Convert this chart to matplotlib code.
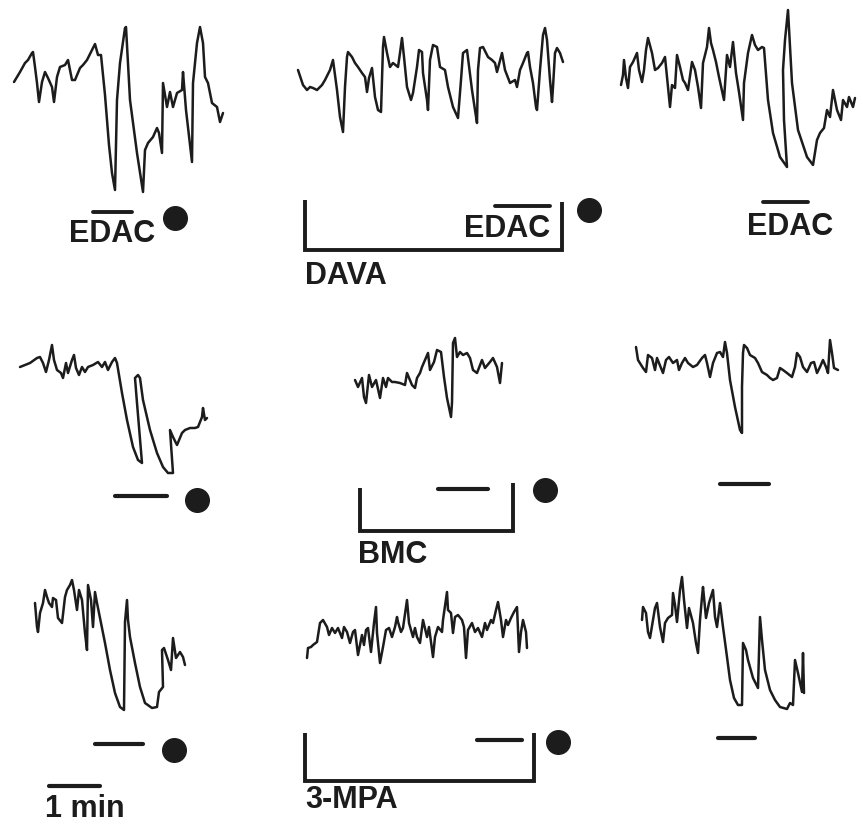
import numpy as np
import matplotlib
matplotlib.use("Agg")
import matplotlib.pyplot as plt

# ---------------- data: recorded traces (time units, deflection units; down = positive) ----------
edac_ctrl_t = [14,20,25,28,32,33,35,37,39,42,45,48,52,54,57,60,65,68,72,75,80,83,87,92,95,98,101,105,109,112,115,117,120,125,126,130,137,143,145,148,153,157,159,162,163,167,170,173,177,182,183,186,192,193,197,200,203,205,208,212,217,220,223]
edac_ctrl_v = [82,72,63,60,53,52,67,83,102,82,72,78,87,102,77,67,65,60,80,80,68,65,60,50,44,55,55,95,145,173,190,100,63,28,27,100,153,192,150,143,137,128,133,153,83,107,92,107,93,90,72,110,162,83,43,27,43,77,83,103,107,122,113]

edac_dava_t = [18,23,27,30,33,37,42,45,50,53,57,60,63,65,67,68,72,75,78,82,85,87,89,92,95,98,101,103,104,107,110,113,118,120,122,124,127,131,133,135,137,139,142,143,147,148,150,153,157,160,165,168,173,178,181,183,187,192,195,197,198,200,203,208,212,215,217,222,225,230,235,237,240,243,247,248,250,253,256,257,260,263,265,267,270,272,273,275,277,280,283]
edac_dava_v = [50,65,70,67,68,70,65,60,50,40,70,97,112,67,37,32,37,43,47,53,57,72,58,48,77,90,92,27,17,33,47,43,47,33,18,37,67,80,73,60,47,30,32,53,80,90,40,25,27,47,50,67,87,98,60,33,30,70,90,103,50,28,27,37,40,43,52,33,50,63,60,67,50,43,33,32,47,63,87,90,50,15,8,20,60,82,67,33,28,33,42]

edac_post_t = [21,23,24,26,28,30,33,37,39,42,44,46,48,52,55,58,62,65,67,70,72,75,77,80,83,85,88,92,95,98,101,103,107,109,111,113,116,119,124,127,130,133,136,139,143,144,148,152,155,158,162,164,168,173,180,187,184,183,185,188,192,198,207,213,217,220,224,227,230,233,237,241,243,247,249,253,255]
edac_post_v = [85,75,60,78,88,67,62,53,70,82,70,50,38,53,70,68,63,57,77,107,85,88,55,67,80,83,90,62,70,87,108,63,47,28,43,50,62,77,100,55,67,42,73,92,120,83,53,35,45,50,47,48,100,133,157,167,120,70,40,10,83,130,157,165,140,133,128,110,117,90,110,120,100,107,97,107,98]

bmc_ctrl_t = [20,25,30,37,40,43,46,49,52,54,57,61,63,66,68,72,74,76,79,82,85,88,93,98,102,105,108,112,115,117,122,127,133,138,142,137,135,138,140,143,150,157,163,168,173,170,173,177,182,185,190,195,198,202,203,205,207]
bmc_ctrl_v = [47,45,43,38,37,43,52,40,25,40,50,53,58,43,53,40,35,48,55,47,52,47,45,42,47,42,50,42,38,43,73,100,127,140,143,83,58,55,58,80,110,133,147,153,153,110,117,125,113,110,108,108,107,97,88,100,98]

bmc_drug_t = [25,28,32,34,36,39,42,46,50,53,56,58,62,65,70,75,77,82,85,87,90,92,95,98,100,104,107,111,114,117,121,122,123,125,127,130,133,137,140,143,147,152,155,160,163,167,170,172]
bmc_drug_v = [60,67,58,77,83,55,67,60,78,58,67,58,62,62,63,65,53,65,68,58,53,47,40,33,50,42,30,32,57,78,97,83,23,18,37,32,35,33,38,50,53,40,48,42,38,47,63,43]

bmc_post_t = [26,28,33,36,38,42,45,47,53,56,59,63,67,69,72,75,78,83,87,92,95,97,100,103,107,110,113,115,117,120,125,130,132,132,133,134,137,140,145,148,152,157,160,163,167,170,173,177,182,185,187,190,193,197,201,204,207,210,213,216,218,220,222,224,228]
bmc_post_v = [27,40,48,52,35,38,50,38,53,40,37,43,40,50,43,38,43,47,45,38,35,43,57,43,33,32,37,22,33,60,87,110,113,67,33,25,28,35,38,43,52,55,58,60,58,48,50,53,57,47,33,37,47,52,43,42,53,47,40,47,53,20,33,48,50]

mpa_ctrl_t = [35,37,38,40,43,45,47,49,52,53,56,58,62,65,67,70,72,74,77,79,82,85,87,88,91,93,95,97,100,105,110,115,120,124,125,127,128,130,135,140,145,152,157,159,163,162,164,168,171,173,176,180,183,185]
mpa_ctrl_v = [43,67,72,53,43,30,37,43,47,38,40,58,63,37,30,25,20,30,50,30,40,73,90,25,40,67,32,43,58,83,110,133,147,150,62,40,60,77,103,127,143,148,147,132,127,90,88,100,110,78,98,92,97,105]

mpa_drug_t = [27,28,31,33,37,40,43,47,49,52,55,58,62,64,67,70,73,75,78,82,84,86,88,91,94,96,97,100,103,106,109,112,115,117,118,121,123,127,129,133,135,137,140,143,147,149,153,155,158,162,163,167,168,171,173,175,178,182,184,186,188,192,195,198,202,205,207,211,213,216,218,221,223,226,228,231,234,237,239,241,243,246,247]
mpa_drug_v = [88,78,77,75,72,53,50,57,65,58,63,58,68,57,62,73,62,60,85,65,75,60,58,82,53,37,63,93,77,60,58,67,57,47,52,62,58,30,53,67,58,67,73,50,67,57,87,67,57,62,50,22,40,43,63,47,45,50,57,88,60,53,62,58,67,53,60,50,53,40,32,50,67,50,55,48,42,37,82,62,50,62,78]

mpa_post_t = [32,33,36,38,40,43,45,47,50,53,55,58,62,63,65,67,70,72,74,77,79,83,86,88,90,92,93,96,99,103,105,107,110,113,117,120,124,128,132,133,136,138,143,148,150,152,155,160,165,170,177,180,183,185,188,192,193,194]
mpa_post_v = [60,47,53,72,78,60,48,43,67,82,63,58,55,33,45,62,30,17,40,68,48,63,83,93,60,37,27,58,43,30,57,67,43,67,97,120,138,145,145,83,90,100,118,128,57,80,110,130,140,147,149,143,145,100,113,132,93,133]

# ---------------- layout (pixel space of the figure) ----------------
W, H = 863, 825
traces = [
    (edac_ctrl_t, edac_ctrl_v, (0, 0)),
    (edac_dava_t, edac_dava_v, (280, 20)),
    (edac_post_t, edac_post_v, (600, 0)),
    (bmc_ctrl_t, bmc_ctrl_v, (0, 320)),
    (bmc_drug_t, bmc_drug_v, (330, 320)),
    (bmc_post_t, bmc_post_v, (610, 320)),
    (mpa_ctrl_t, mpa_ctrl_v, (0, 560)),
    (mpa_drug_t, mpa_drug_v, (280, 570)),
    (mpa_post_t, mpa_post_v, (610, 560)),
]

fig = plt.figure(figsize=(W / 100, H / 100), dpi=100)
fig.patch.set_facecolor("white")
ax = fig.add_axes([0, 0, 1, 1])
ax.set_xlim(0, W)
ax.set_ylim(H, 0)
ax.axis("off")

ink = "#1c1c1c"
for t, v, (ox, oy) in traces:
    ax.plot(np.asarray(t) + ox, np.asarray(v) + oy, color=ink, lw=1.8,
            solid_joinstyle="round", solid_capstyle="round")

# brackets (drug application periods)
brackets = [((305, 200), (562, 250), 202), ((360, 488), (513, 531), 483), ((305, 733), (534, 781), 733)]
for (x0, y0), (x1, y1), yr in brackets:
    ax.plot([x0, x0, x1, x1], [y0, y1, y1, yr], color=ink, lw=2.8,
            solid_joinstyle="miter", solid_capstyle="butt")

# agonist application bars
bars = [(115, 167, 496), (438, 488, 489), (720, 769, 484),
        (95, 143, 744), (477, 522, 740), (718, 755, 738), (49, 100, 786)]
for x0, x1, y in bars:
    ax.plot([x0, x1], [y, y], color=ink, lw=3.0, solid_capstyle="round")

# overlines over "DAC"
for x0, x1, y in [(93, 132, 212), (495, 550, 206), (763, 808, 202)]:
    ax.plot([x0, x1], [y, y], color=ink, lw=2.8, solid_capstyle="round")

# dots
dots = [(175, 218), (589, 210), (197, 500), (545, 490), (174, 750), (558, 742)]
for x, y in dots:
    ax.plot([x], [y], "o", color=ink, ms=17, mec=ink)

# labels
fp = dict(family=["Liberation Sans", "DejaVu Sans"], fontweight="bold", fontsize=22,
          color=ink, ha="left", va="baseline")
labels = [("EDAC", 69, 242), ("EDAC", 464, 237), ("EDAC", 747, 235),
          ("DAVA", 305, 284), ("BMC", 358, 563), ("3-MPA", 305, 808), ("1 min", 45, 817)]
for s, x, y in labels:
    ax.text(x, y, s, **fp)

fig.savefig("out.png", dpi=100, facecolor="white")
